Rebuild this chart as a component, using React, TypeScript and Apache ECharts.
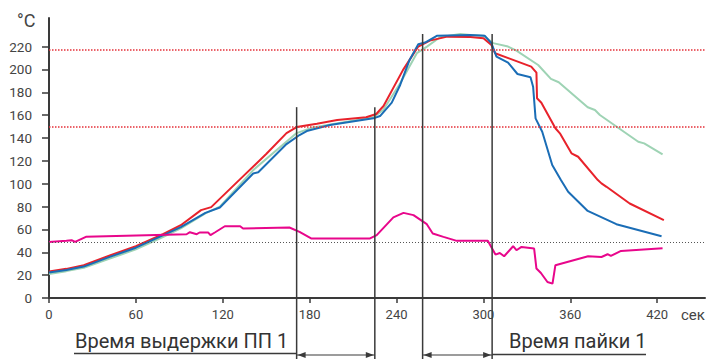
import React, { useEffect, useRef } from "react";
import * as echarts from "echarts";

const xTicks = [0, 60, 120, 180, 240, 300, 360, 420];
const yTicks = [0, 20, 40, 60, 80, 100, 120, 140, 160, 180, 200, 220];

const redCurve = [
  [0, 23.1], [12, 25.5], [24, 28.7], [42, 37.2], [60, 45.3], [79, 56], [91, 63.7], [105, 76.9], [112, 79.5],
  [132, 104], [150, 126], [164, 144.3], [171, 149.6], [185, 152.5], [199, 155.7], [219, 158.1], [226, 161],
  [231, 168], [244.5, 199.6], [255, 220], [263, 225.2], [275, 228.7], [291, 228.3], [300, 227.3], [305.5, 221.5],
  [308, 214.2], [333, 202.5], [336.6, 197.2], [337, 174.8], [340, 170.9], [349.7, 148.5], [352.8, 144.1],
  [360.8, 126.6], [365.4, 123.6], [379, 103.2], [381.5, 100.3], [385, 97.3], [401, 82.7], [424.6, 68.1],
];

const blueCurve = [
  [0, 22.3], [12, 24.5], [24, 27.5], [42, 36], [60, 44], [79, 55], [91, 62], [108, 74.5], [118, 79.2],
  [141, 109], [144.5, 110], [164, 134.7], [173, 142.6], [178, 146.1], [194, 151.4], [224, 157.2], [228.6, 159.2],
  [236.7, 170.9], [242.5, 186.4], [249, 208.3], [255, 222.1], [259.7, 223.5], [267.8, 229.4], [290.8, 230.2],
  [301, 229.4], [305.5, 223], [309, 211.2], [317, 206], [323.5, 196], [332.5, 193.2], [334.3, 184.9], [336, 157.2],
  [340.6, 145.5], [347.5, 116.3], [353.5, 103.2], [358.5, 92.9], [372, 76.2], [391.8, 64.6], [423, 54.1],
];

const greenCurve = [
  [0, 21], [12, 23.5], [24, 26.5], [42, 34.5], [60, 42.5], [79, 53.5], [91, 61], [108, 74], [118, 80],
  [141, 111.9], [171, 144.3], [182.3, 149.3], [224, 158.1], [230.8, 164.5], [242.5, 187.9], [254, 214.2],
  [261, 220], [270, 228.2], [284, 231.1], [291, 230.2], [300, 229.4], [306.7, 223], [317, 220], [322.8, 216.5],
  [337.8, 203.9], [346.6, 191.7], [352, 188.8], [372, 166.9], [377, 164.5], [380.4, 160.1], [406.9, 136.7],
  [411, 135.3], [423.7, 125.7],
];

const magentaCurve = [
  [0, 49.1], [12, 50], [15.6, 50.6], [18, 49.1], [25.5, 53.5], [95, 55.8], [97.3, 57.6], [102, 55.8], [104, 57.3],
  [110, 57.3], [111.5, 55], [114.5, 57.3], [121.4, 62.8], [132, 62.8], [134, 60.8], [166, 61.7], [173, 57.8],
  [181, 52.1], [221.7, 52.1], [226.3, 55], [237.8, 70.5], [244.8, 74.5], [251.7, 72.5], [260.9, 64.6], [265, 56.4],
  [272.4, 53.5], [281.6, 50], [303, 50], [308.3, 38], [311.3, 39.4], [314.3, 36.5], [320.5, 45.3], [322.8, 41.8],
  [326.3, 44.7], [335, 43.3], [336.6, 25.8], [339.7, 21.9], [344.2, 14], [347.7, 12.6], [349.7, 28.7],
  [372.3, 36.5], [381.5, 35.9], [385.7, 38.3], [388, 36.8], [395, 41.2], [423.7, 43.6],
];

const redThresholds = [217.5, 149.5];
const blackThreshold = 49;
const phaseLines = [171, 225, 258, 306];
const phaseTops = [167, 167, 231, 231];
const soakLabel = "Время выдержки ПП 1";
const solderLabel = "Время пайки 1";
const xUnit = "сек";
const yUnit = "°C";

const DARK = "#3a3a3a";
const FONT = "Roboto, 'Noto Sans', sans-serif";

export default function App() {
  const ref = useRef<HTMLDivElement>(null);
  useEffect(() => {
    document.body.style.margin = "0";
    document.body.style.overflow = "hidden";
    const chart = echarts.init(ref.current!, null, { renderer: "svg" });
    const lineSeries = (name: string, data: number[][], color: string, extra: any = {}) => ({
      name,
      type: "line",
      data,
      symbol: "none",
      showSymbol: false,
      smooth: false,
      silent: true,
      lineStyle: { color, width: 2 },
      ...extra,
    });
    chart.setOption({
      animation: false,
      tooltip: { show: false },
      grid: { left: 49, right: 3, top: 18, bottom: 61 },
      xAxis: {
        type: "value",
        min: 0,
        max: 453,
        axisLine: { show: true, lineStyle: { color: DARK, width: 2 } },
        axisTick: { show: true, customValues: xTicks, length: 5, lineStyle: { color: DARK, width: 1.5 } },
        axisLabel: { customValues: xTicks, color: "#444", fontSize: 13, fontFamily: FONT, margin: 10 },
        splitLine: { show: false },
      },
      yAxis: {
        type: "value",
        min: 0,
        max: 245,
        axisLine: { show: true, lineStyle: { color: DARK, width: 2 } },
        axisTick: { show: true, customValues: yTicks, length: 7, lineStyle: { color: DARK, width: 1.5 } },
        axisLabel: { customValues: yTicks, color: "#444", fontSize: 13.5, fontFamily: FONT, margin: 17 },
        splitLine: { show: false },
      },
      series: [
        lineSeries("green", greenCurve, "#9ed3b4", {
          markLine: {
            silent: true,
            symbol: "none",
            label: { show: false },
            data: [
              ...redThresholds.map((v) => ({ yAxis: v, lineStyle: { color: "#e5303a", width: 1.5, type: [1.5, 1.5] } })),
              { yAxis: blackThreshold, lineStyle: { color: "#555", width: 1, type: [1, 2] } },
            ],
          },
        }),
        lineSeries("red", redCurve, "#e8222b"),
        lineSeries("blue", blueCurve, "#1a6db6"),
        lineSeries("magenta", magentaCurve, "#e8068b"),
      ],
    });

    const px = (t: number, v: number) => chart.convertToPixel({ gridIndex: 0 }, [t, v]) as number[];
    const bottomY = 359;
    const arrowY = 355;
    const xs = phaseLines.map((t) => px(t, 0)[0]);
    const graphics: any[] = [];
    phaseLines.forEach((t, i) => {
      const top = px(t, phaseTops[i]);
      graphics.push({
        type: "line",
        shape: { x1: top[0], y1: top[1], x2: top[0], y2: bottomY },
        style: { stroke: DARK, lineWidth: 1.5 },
        z: 100,
      });
    });
    const arrow = (a: number, b: number) => {
      graphics.push({ type: "line", shape: { x1: a, y1: arrowY, x2: b, y2: arrowY }, style: { stroke: DARK, lineWidth: 1.2 }, z: 100 });
      graphics.push({ type: "polygon", shape: { points: [[a + 1, arrowY], [a + 9, arrowY - 3], [a + 9, arrowY + 3]] }, style: { fill: DARK }, z: 100 });
      graphics.push({ type: "polygon", shape: { points: [[b - 1, arrowY], [b - 9, arrowY - 3], [b - 9, arrowY + 3]] }, style: { fill: DARK }, z: 100 });
    };
    arrow(xs[0], xs[1]);
    arrow(xs[2], xs[3]);
    graphics.push({ type: "line", shape: { x1: 74, y1: 353.5, x2: xs[0], y2: 353.5 }, style: { stroke: DARK, lineWidth: 1.5 }, z: 100 });
    graphics.push({ type: "line", shape: { x1: xs[3], y1: 354.5, x2: 646, y2: 354.5 }, style: { stroke: DARK, lineWidth: 1.5 }, z: 100 });
    graphics.push({
      type: "text", x: 75, y: 341,
      style: { text: soakLabel, fill: "#333", font: `20px ${FONT}`, align: "left", verticalAlign: "middle" },
      z: 100,
    });
    graphics.push({
      type: "text", x: 509, y: 341,
      style: { text: solderLabel, fill: "#333", font: `20px ${FONT}`, align: "left", verticalAlign: "middle" },
      z: 100,
    });
    graphics.push({
      type: "text", x: 681, y: 315,
      style: { text: xUnit, fill: "#444", font: `15px ${FONT}`, align: "left", verticalAlign: "middle" },
      z: 100,
    });
    graphics.push({
      type: "text", x: 17, y: 20,
      style: { text: yUnit, fill: "#444", font: `18px ${FONT}`, align: "left", verticalAlign: "middle" },
      z: 100,
    });
    chart.setOption({ graphic: graphics });
    return () => chart.dispose();
  }, []);
  return <div ref={ref} style={{ width: 708, height: 359 }} />;
}
